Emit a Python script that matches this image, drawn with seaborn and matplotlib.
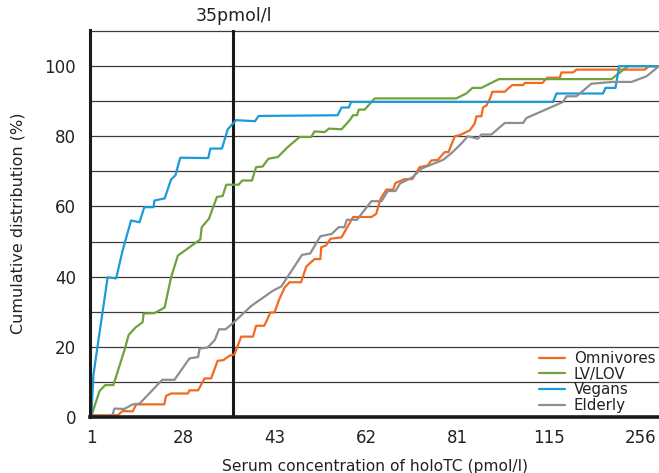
import matplotlib
matplotlib.use("Agg")
import matplotlib.pyplot as plt
import matplotlib.transforms as mtransforms
import seaborn as sns
import numpy as np
import pandas as pd

# Data (serum holoTC in pmol/l, cumulative %)
omni_x = [1, 8.8, 10.2, 13.2, 14.2, 22.5, 23.0, 24.5, 28.7, 28.9, 30.1, 31.0, 31.9, 32.8, 33.6, 34.4,
          35.2, 36.5, 38.8, 39.4, 41.0, 42.2, 43.0, 44.0, 45.1, 46.1, 48.5, 49.6, 51.3, 52.5, 52.7,
          53.7, 54.6, 56.9, 59.3, 63.1, 64.1, 65.0, 66.2, 67.6, 68.1, 70.0, 71.6, 73.1, 74.8, 75.5,
          76.9, 78.3, 79.1, 80.4, 81.7, 83.6, 85.5, 87.3, 88.0, 89.8, 90.4, 91.7, 92.9, 93.9, 98.5,
          99.7, 101.3, 105.3, 105.9, 112.5, 114.2, 131.2, 133.8, 151.7, 156.9, 262.2, 268.8, 284]
omni_y = [0.5, 0.5, 1.7, 1.6, 3.6, 3.6, 6.0, 6.7, 6.7, 7.6, 7.6, 11.0, 11.0, 16.0, 16.2, 17.4,
          17.9, 22.9, 22.9, 26.0, 26.0, 29.8, 29.8, 33.6, 36.9, 38.4, 38.4, 42.9, 45.0, 45.0, 48.4,
          48.9, 50.8, 51.2, 57.0, 57.0, 57.9, 62.2, 64.8, 64.8, 66.7, 67.8, 67.8, 71.2, 71.7, 73.1,
          73.3, 75.5, 75.5, 80.0, 80.3, 81.0, 81.7, 83.6, 85.7, 85.7, 88.2, 88.8, 90.6, 92.7, 92.7,
          93.6, 94.6, 94.6, 95.2, 95.2, 96.7, 96.7, 98.2, 98.2, 99.0, 99.0, 100, 100]

lv_x = [1, 3.4, 5.1, 7.5, 10.7, 12.0, 14.0, 16.1, 16.4, 19.6, 22.6, 24.5, 26.5, 30.4, 30.6, 31.6,
        32.7, 33.5, 34.0, 36.0, 36.7, 38.6, 39.4, 40.7, 41.8, 43.7, 45.8, 48.2, 50.6, 51.3, 53.4,
        54.3, 56.9, 58.6, 59.3, 60.1, 60.5, 61.7, 63.8, 80.7, 84.2, 86.5, 89.8, 96.3, 210.9, 236.4, 284]
lv_y = [0.3, 7.4, 9.1, 9.1, 18.9, 23.4, 25.5, 27.0, 29.5, 29.6, 31.2, 39.8, 46.0, 50.6, 54.1, 56.5,
        62.7, 63.0, 66.2, 66.2, 67.4, 67.4, 71.2, 71.4, 73.6, 74.1, 77.0, 79.8, 79.8, 81.4, 81.2,
        82.2, 82.0, 84.6, 86.0, 86.0, 87.6, 87.6, 90.8, 90.8, 92.2, 93.8, 93.8, 96.3, 96.3, 100, 100]

vegan_x = [1, 1.6, 3.4, 5.8, 8.3, 10.2, 12.7, 15.2, 16.6, 19.3, 19.6, 22.6, 24.5, 25.8, 27.2, 31.5,
           31.8, 33.4, 34.2, 35.5, 39.2, 39.9, 56.1, 56.9, 58.4, 58.9, 120.9, 126.1, 197.9, 201.6,
           217.0, 222.6, 284]
vegan_y = [0.3, 12.0, 24.0, 39.8, 39.5, 47.4, 56.0, 55.5, 59.8, 59.8, 61.7, 62.3, 67.7, 68.9, 73.9,
           73.8, 76.5, 76.5, 82.0, 84.6, 84.3, 85.8, 86.0, 88.2, 88.2, 89.8, 89.8, 92.2, 92.2, 93.8,
           93.8, 100, 100]

eld_x = [1, 7.1, 7.8, 10.7, 13.2, 15.2, 21.9, 25.5, 28.9, 30.1, 30.3, 31.4, 32.4, 33.0, 33.9, 34.9,
         38.5, 42.7, 44.4, 48.7, 50.4, 52.5, 54.9, 56.3, 57.5, 58.0, 60.1, 63.1, 65.2, 66.5, 68.1,
         69.0, 71.7, 73.5, 78.0, 79.7, 81.7, 84.8, 88.5, 89.8, 93.5, 98.5, 105.3, 106.5, 136.3,
         141.5, 156.9, 180.0, 213.3, 241.7, 264.8, 284]
eld_y = [0.3, 0.3, 2.4, 2.3, 3.6, 3.8, 10.6, 10.6, 16.7, 17.1, 19.5, 19.8, 21.9, 25.0, 25.0, 26.7,
         31.7, 36.0, 37.2, 46.2, 46.6, 51.5, 52.2, 54.1, 54.1, 56.2, 56.2, 61.5, 61.5, 64.4, 64.4,
         66.5, 68.4, 70.8, 73.3, 75.2, 77.4, 80.0, 79.3, 80.5, 80.5, 83.8, 83.8, 85.2, 89.8,
         91.4, 91.4, 95.0, 95.5, 95.5, 97.1, 100]

groups = ["Omnivores", "LV/LOV", "Vegans", "Elderly"]
colors = {"Omnivores": "#f26a21", "LV/LOV": "#6fa23a", "Vegans": "#1d9ad8", "Elderly": "#8e8e8e"}
xticks = [1, 28, 43, 62, 81, 115, 256]
cutoff = 35

df = pd.concat([
    pd.DataFrame({"x": omni_x, "y": omni_y, "group": "Omnivores"}),
    pd.DataFrame({"x": lv_x, "y": lv_y, "group": "LV/LOV"}),
    pd.DataFrame({"x": vegan_x, "y": vegan_y, "group": "Vegans"}),
    pd.DataFrame({"x": eld_x, "y": eld_y, "group": "Elderly"}),
], ignore_index=True)

# piecewise scale: tick values evenly spaced
knot_v = np.array([-26, 1, 28, 35, 43, 62, 81, 115, 256, 397])
knot_p = np.array([-1, 0, 1, 1.552, 2, 3, 4, 5, 6, 7])

def fwd(v):
    return np.interp(v, knot_v, knot_p)

def inv(p):
    return np.interp(p, knot_p, knot_v)

sns.set_style("white")
plt.rcParams["font.family"] = ["DejaVu Sans"]

fig = plt.figure(figsize=(6.59, 4.73), dpi=100)
ax = fig.add_axes([0.1366, 0.1184, 0.8634, 0.8182])
ax.set_xscale("function", functions=(fwd, inv))

sns.lineplot(data=df, x="x", y="y", hue="group", hue_order=groups, palette=colors,
             estimator=None, sort=False, linewidth=1.6, ax=ax)

ax.axvline(cutoff, color="#1a1a1a", lw=2.2, zorder=1)
trans = mtransforms.blended_transform_factory(ax.transData, ax.transAxes)
ax.text(cutoff, 1.012, "35pmol/l", transform=trans, ha="center", va="bottom",
        fontsize=12.5, color="#222222")

ax.set_xlim(0.6, 284)
ax.set_ylim(0, 110.3)
ax.set_xticks(xticks)
ax.set_xticklabels([str(t) for t in xticks])
ax.set_yticks(range(0, 101, 20))
ax.set_yticks(range(10, 111, 10), minor=True)
ax.yaxis.grid(True, which="both", color="#3a3a3a", lw=0.9)
ax.xaxis.grid(False)
ax.set_axisbelow(True)
ax.tick_params(axis="both", length=0, labelsize=12, colors="#222222")
ax.tick_params(axis="x", pad=9)
ax.tick_params(axis="y", pad=10)

for s in ["top", "right"]:
    ax.spines[s].set_visible(False)
ax.spines["left"].set_color("#1a1a1a")
ax.spines["left"].set_linewidth(2.2)
ax.spines["bottom"].set_color("#1a1a1a")
ax.spines["bottom"].set_linewidth(2.6)

ax.set_xlabel("Serum concentration of holoTC (pmol/l)", fontsize=11.2, color="#222222", labelpad=8)
ax.set_ylabel("Cumulative distribution (%)", fontsize=11.5, color="#222222", labelpad=14)

ax.legend(loc="lower right", frameon=False, fontsize=10.8, handlelength=1.7, handletextpad=0.6,
          labelspacing=0.05, borderaxespad=0.15, borderpad=0.1, labelcolor="#222222")

fig.savefig("out.png", dpi=100)
